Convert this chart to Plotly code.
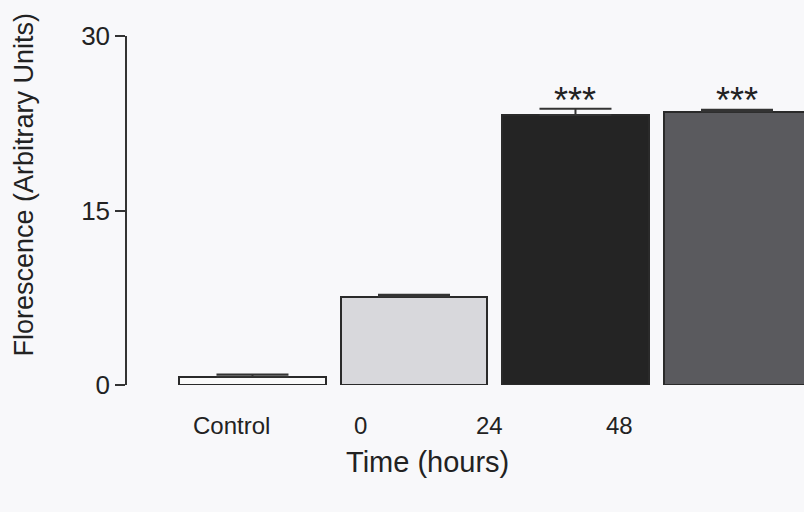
import plotly.graph_objects as go

# ---- data ----
categories = ["Control", "0", "24", "48"]
values = [0.7, 7.6, 23.2, 23.5]
errors = [0.2, 0.15, 0.55, 0.15]
significance = ["", "", "***", "***"]
tick_labels = ["Control", "0", "24", "48"]

# ---- style ----
bar_colors = ["#fafafa", "#d8d8dc", "#242424", "#5a5a5e"]
bg = "#f8f8fa"
ink = "#222222"
font_family = "Liberation Sans, Arial, sans-serif"

xpos = list(range(len(categories)))
# label positions (the original figure's labels are offset from the bars)
label_pos = [-0.127, 0.666, 1.47, 2.27]

fig = go.Figure()
fig.add_trace(go.Bar(
    x=xpos, y=values, width=0.91,
    marker=dict(color=bar_colors, line=dict(color="#2a2a2a", width=2)),
    error_y=dict(type="data", array=errors, arrayminus=[0]*len(errors),
                 symmetric=False, color="#333333", thickness=2, width=36),
    showlegend=False,
))

annotations = []
for xp, txt in zip(label_pos, tick_labels):
    annotations.append(dict(x=xp, xref="x", y=0, yref="paper", text=txt,
                            showarrow=False, yanchor="middle", yshift=-40,
                            font=dict(size=24, color=ink, family=font_family)))
for xp, v, e, s in zip(xpos, values, errors, significance):
    if s:
        annotations.append(dict(x=xp, xref="x", y=24.7, yref="y", text=s,
                                showarrow=False, yanchor="middle", yshift=-3,
                                font=dict(size=36, color=ink, family=font_family)))
annotations.append(dict(x=0.4446, xref="paper", y=0, yref="paper", text="Time (hours)",
                        showarrow=False, yanchor="middle", yshift=-77,
                        font=dict(size=29, color=ink, family=font_family)))
annotations.append(dict(x=-0.1507, xref="paper", y=0.5745, yref="paper",
                        text="Florescence (Arbitrary Units)", textangle=-90,
                        showarrow=False, xanchor="center", yanchor="middle",
                        font=dict(size=27, color=ink, family=font_family)))

fig.update_layout(
    width=804, height=512,
    margin=dict(l=127, r=0, t=36, b=127, pad=0),
    paper_bgcolor=bg, plot_bgcolor=bg,
    font=dict(family=font_family, color=ink),
    bargap=0,
    annotations=annotations,
    xaxis=dict(range=[-0.777, 3.415], showline=False, showticklabels=False,
               ticks="", showgrid=False, zeroline=False, fixedrange=True),
    yaxis=dict(range=[0, 30], tickvals=[0, 15, 30], showline=True,
               linecolor="#333333", linewidth=1.5, ticks="outside", ticklen=10,
               tickwidth=1.5, tickcolor="#333333", showgrid=False, zeroline=False,
               tickfont=dict(size=26, color=ink, family=font_family)),
)

fig.write_html("out.html")
